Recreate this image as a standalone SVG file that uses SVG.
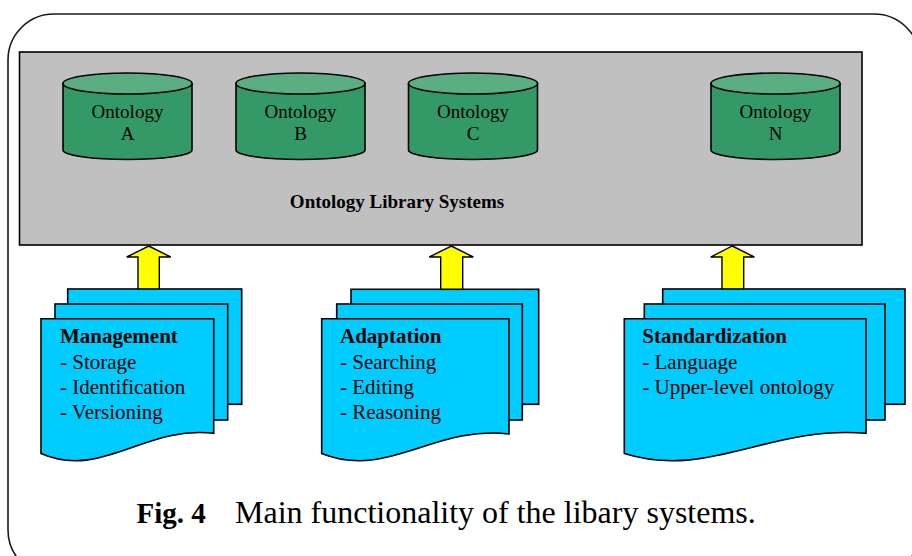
<svg xmlns="http://www.w3.org/2000/svg" width="912" height="556" viewBox="0 0 912 556">
<defs>
<style>
.frame{fill:none;stroke:#1a1a1a;stroke-width:1.6}
.lib{fill:#c0c0c0;stroke:#000;stroke-width:1.6}
.cylb{fill:#339966;stroke:#000;stroke-width:1.6}
.cylt{fill:#5aae82;stroke:#000;stroke-width:1.6}
.doc{fill:#00ccff;stroke:#000;stroke-width:1.6}
.arr{fill:#ffff00;stroke:#000;stroke-width:1.4}
.t{font-family:"Liberation Serif","Times New Roman",serif;fill:#000}
.ont{font-size:19px;text-anchor:middle}
.dt{font-size:21px}
.b{font-weight:bold}
</style>
</defs>
<rect class="frame" x="8" y="14" width="912" height="562" rx="46" ry="46"/>
<g id="library">
<rect class="lib" x="19.5" y="52" width="842.5" height="193"/>
<text class="t b" x="397" y="207.5" font-size="19" text-anchor="middle">Ontology Library Systems</text>
</g>
<g id="ontA">
<path class="cylb" d="M63,83.5 V150 A64.5,9.5 0 0 0 192,150 V83.5 Z"/>
<ellipse class="cylt" cx="127.5" cy="83.5" rx="64.5" ry="10.5"/>
<text class="t ont" x="127.5" y="118">Ontology</text>
<text class="t ont" x="127.5" y="140">A</text>
</g>
<g id="ontB">
<path class="cylb" d="M236,83.5 V150 A64.5,9.5 0 0 0 365,150 V83.5 Z"/>
<ellipse class="cylt" cx="300.5" cy="83.5" rx="64.5" ry="10.5"/>
<text class="t ont" x="300.5" y="118">Ontology</text>
<text class="t ont" x="300.5" y="140">B</text>
</g>
<g id="ontC">
<path class="cylb" d="M408.5,83.5 V150 A64.5,9.5 0 0 0 537.5,150 V83.5 Z"/>
<ellipse class="cylt" cx="473" cy="83.5" rx="64.5" ry="10.5"/>
<text class="t ont" x="473" y="118">Ontology</text>
<text class="t ont" x="473" y="140">C</text>
</g>
<g id="ontN">
<path class="cylb" d="M711,83.5 V150 A64.5,9.5 0 0 0 840,150 V83.5 Z"/>
<ellipse class="cylt" cx="775.5" cy="83.5" rx="64.5" ry="10.5"/>
<text class="t ont" x="775.5" y="118">Ontology</text>
<text class="t ont" x="775.5" y="140">N</text>
</g>
<g id="connectors">
<polygon class="arr" points="148.7,246 170.7,257 159.3,257 159.3,292 138,292 138,257 126.7,257"/>
<polygon class="arr" points="451.3,246 473.3,257 462.7,257 462.7,292 440.7,292 440.7,257 429.3,257"/>
<polygon class="arr" points="732.3,246 754.3,257 743.7,257 743.7,292 722,292 722,257 710.7,257"/>
</g>
<g id="management">
<rect class="doc" x="67.7" y="289" width="174" height="115.3"/>
<rect class="doc" x="55" y="304" width="172.7" height="116"/>
<path class="doc" d="M41,318.7 H213.7 V433.3 C144.8,425 101.5,480 41,453.5 Z"/>
<text class="t dt b" x="60" y="343.3">Management</text>
<text class="t dt" x="60" y="369">- Storage</text>
<text class="t dt" x="60" y="394">- Identification</text>
<text class="t dt" x="60" y="419">- Versioning</text>
</g>
<g id="adaptation">
<rect class="doc" x="351" y="289.3" width="187.7" height="115"/>
<rect class="doc" x="336.7" y="304" width="185.6" height="116"/>
<path class="doc" d="M321.7,318.7 H509 V434 C434,425 387,480 321.7,453.5 Z"/>
<text class="t dt b" x="340" y="343.3">Adaptation</text>
<text class="t dt" x="340" y="369">- Searching</text>
<text class="t dt" x="340" y="394">- Editing</text>
<text class="t dt" x="340" y="419">- Reasoning</text>
</g>
<g id="standardization">
<rect class="doc" x="662.7" y="289" width="242.3" height="115.3"/>
<rect class="doc" x="644.3" y="304" width="240.7" height="116"/>
<path class="doc" d="M624.3,318.7 H866 V433.3 C769.3,425 708.9,480 624.3,453.5 Z"/>
<text class="t dt b" x="642.3" y="343.3">Standardization</text>
<text class="t dt" x="642.3" y="369">- Language</text>
<text class="t dt" x="642.3" y="394">- Upper-level ontology</text>
</g>
<g id="caption">
<text class="t b" x="136.5" y="522.7" font-size="29">Fig. 4</text>
<text class="t" x="235" y="522.7" font-size="32">Main functionality of the libary systems.</text>
</g>
</svg>
